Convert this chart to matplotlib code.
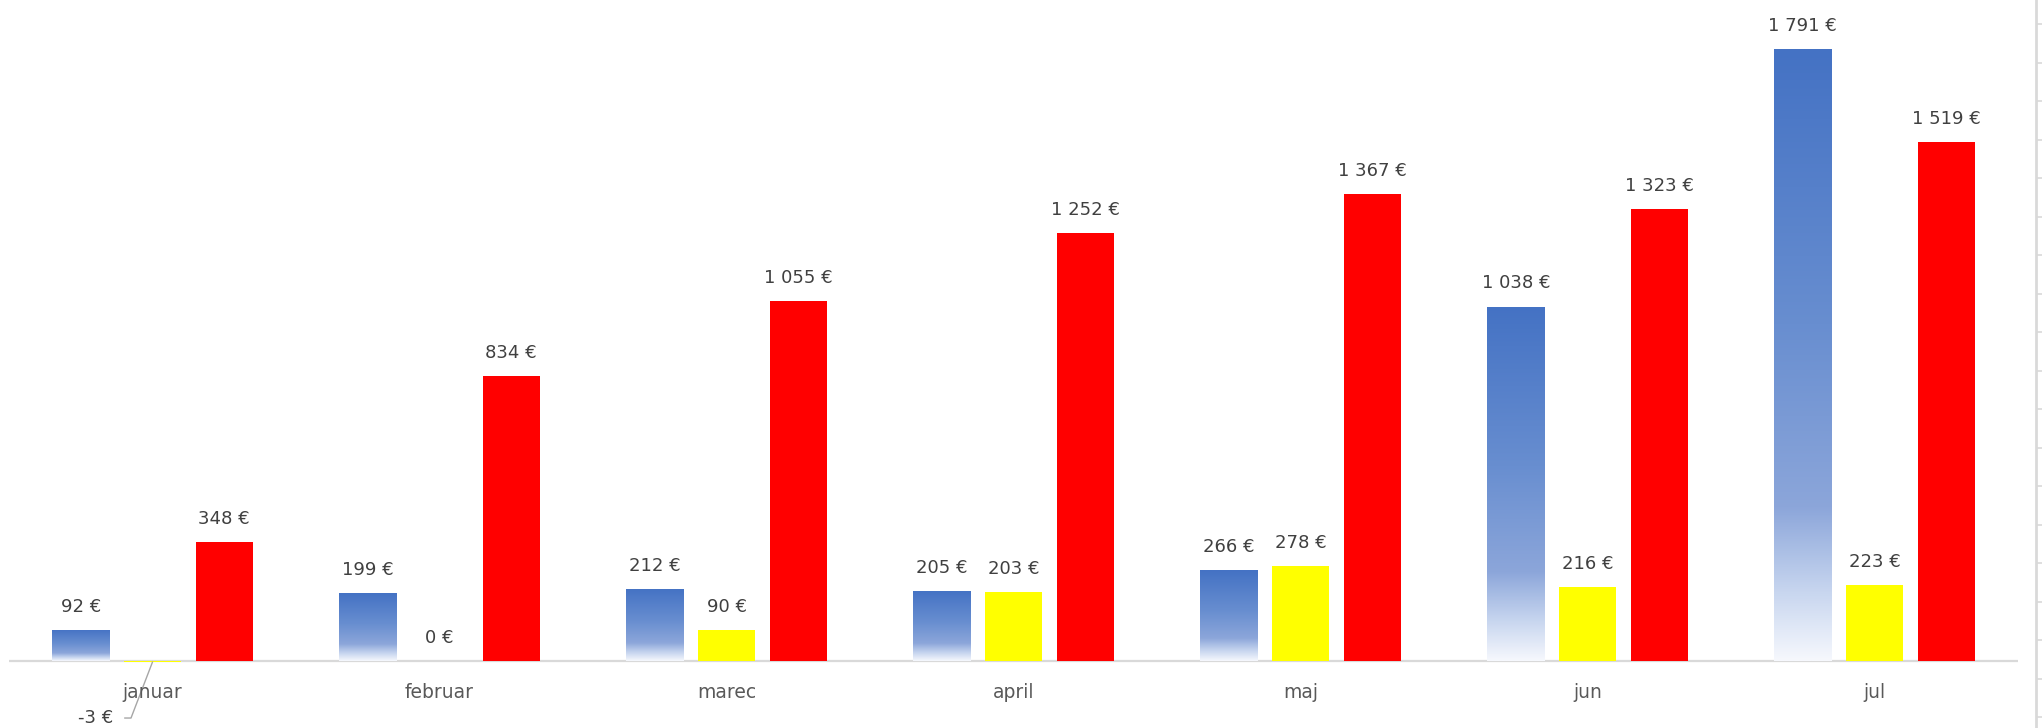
import numpy as np
import matplotlib
matplotlib.use("Agg")
import matplotlib.pyplot as plt

months = ["januar", "februar", "marec", "april", "maj", "jun", "jul"]
blue_vals = [92, 199, 212, 205, 266, 1038, 1791]
yellow_vals = [-3, 0, 90, 203, 278, 216, 223]
red_vals = [348, 834, 1055, 1252, 1367, 1323, 1519]

W, H, DPI = 2042, 728, 100
BLUE_TOP = np.array([68, 114, 196]) / 255
YELLOW = "#FFFF00"
RED = "#FF0000"
LABEL_C = "#404040"
MONTH_C = "#595959"
AXIS_C = "#D9D9D9"

plt.rcParams["font.family"] = ["DejaVu Sans"]


def eur(v):
    return f"{v:,}".replace(",", " ") + " €"


def blue_gradient(n=256):
    # top -> bottom colour stops of the blue fill
    stops = [0.0, 0.45, 0.75, 0.88, 1.0]
    cols = np.array([[68, 114, 196], [104, 142, 208], [140, 166, 218],
                     [196, 211, 238], [246, 248, 253]]) / 255
    t = np.linspace(0, 1, n)
    g = np.stack([np.interp(t, stops, cols[:, k]) for k in range(3)], axis=1)
    return g[:, None, :]


fig = plt.figure(figsize=(W / DPI, H / DPI), dpi=DPI)
fig.patch.set_facecolor("white")

# plot area in pixels (baseline at y=661 from top, 0.3415 px per €)
left_px, right_px = 9, 2018
ymin, ymax = -150, 1900
scale = 0.3415
base_px = 661
bot_px = base_px - ymin * scale
top_px = base_px - ymax * scale
ax = fig.add_axes([left_px / W, (H - bot_px) / H,
                   (right_px - left_px) / W, (bot_px - top_px) / H])
ax.set_xlim(-0.5, len(months) - 0.5)
ax.set_ylim(ymin, ymax)
ax.axis("off")

x = np.arange(len(months))
width = 0.2
off = 0.25

ax.axhline(0, color=AXIS_C, lw=1.6, zorder=1)

grad = blue_gradient()
blue_bars = ax.bar(x - off, blue_vals, width, color="none", zorder=2)
for b in blue_bars:
    x0, h = b.get_x(), b.get_height()
    im = ax.imshow(grad, extent=[x0, x0 + b.get_width(), 0, h],
                   aspect="auto", origin="upper", zorder=2)
    im.set_clip_path(b)
ax.bar(x, yellow_vals, width, color=YELLOW, zorder=2)
ax.bar(x + off, red_vals, width, color=RED, zorder=2)
ax.set_xlim(-0.5, len(months) - 0.5)
ax.set_ylim(ymin, ymax)

for dx, vals in [(-off, blue_vals), (0, yellow_vals), (off, red_vals)]:
    for xi, v in zip(x + dx, vals):
        if v >= 0:
            ax.annotate(eur(v), (xi, v), xytext=(0, 13), textcoords="offset points",
                        ha="center", va="baseline", fontsize=13, color=LABEL_C)
        else:
            ax.annotate(eur(v), (xi, v), xytext=(-39, -56), textcoords="offset pixels",
                        ha="right", va="center", fontsize=13, color=LABEL_C,
                        arrowprops=dict(arrowstyle="-", color="#A6A6A6", lw=1,
                                        shrinkA=6, shrinkB=0, relpos=(1, 0.5),
                                        connectionstyle="angle,angleA=0,angleB=69,rad=0"))

for xi, m in zip(x, months):
    ax.annotate(m, (xi, 0), xytext=(0, -32), textcoords="offset pixels",
                ha="center", va="center", fontsize=13.5, color=MONTH_C)

# spreadsheet gridline remnant on the right edge
side = fig.add_axes([2036 / W, 0, 6 / W, 1])
side.set_xlim(0, 1)
side.set_ylim(0, H)
for s in ["top", "right", "bottom"]:
    side.spines[s].set_visible(False)
side.spines["left"].set_color(AXIS_C)
side.spines["left"].set_linewidth(2)
side.set_xticks([])
side.set_yticks(np.arange(88 % 38.5, H, 38.5))
side.tick_params(axis="y", direction="in", length=6, width=1.2, color=AXIS_C,
                 labelleft=False)
side.patch.set_alpha(0)

fig.savefig("out.png", dpi=DPI)
